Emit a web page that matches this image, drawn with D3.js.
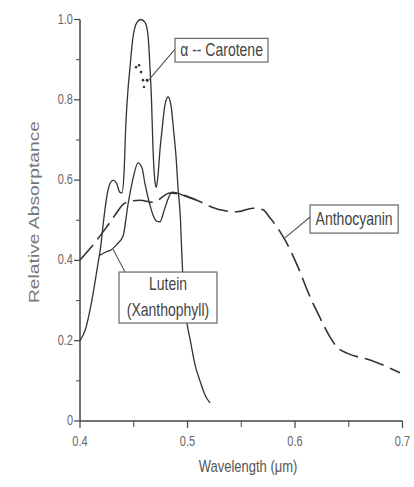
<!DOCTYPE html>
<html>
<head>
<meta charset="utf-8">
<script src="https://cdn.jsdelivr.net/npm/d3@7"></script>
<style>
  html, body { margin: 0; padding: 0; background: #fff; }
  svg { display: block; }
  text { font-family: "Liberation Sans", Arial, sans-serif; }
</style>
</head>
<body>
<svg id="chart" width="414" height="487"></svg>
<script>
// Pigment absorption spectra: wavelength (µm) vs relative absorptance
const xTicks = [0.4, 0.5, 0.6, 0.7];
const xMinorTicks = [0.45, 0.55, 0.65];
const yTicks = [0, 0.2, 0.4, 0.6, 0.8, 1.0];
const yMinorTicks = [0.1, 0.3, 0.5, 0.7, 0.9];

// α-Carotene
const caroteneWl  = [0.400, 0.405, 0.411, 0.416, 0.4195, 0.422, 0.425, 0.428, 0.431, 0.434, 0.437, 0.439, 0.441, 0.4425, 0.4445, 0.4465, 0.449, 0.453, 0.4567, 0.4605, 0.4633, 0.4651, 0.4665, 0.4679, 0.4698, 0.4710, 0.4725, 0.4744, 0.4763, 0.4790, 0.4819, 0.4847, 0.4872, 0.4893, 0.4912, 0.4935, 0.4945, 0.4955, 0.4975, 0.4995, 0.5023, 0.5070, 0.5116, 0.5163, 0.5209];
const caroteneAbs = [0.200, 0.228, 0.300, 0.380, 0.440, 0.500, 0.560, 0.592, 0.600, 0.592, 0.570, 0.568, 0.620, 0.730, 0.820, 0.880, 0.950, 0.993, 1.000, 0.993, 0.960, 0.880, 0.800, 0.680, 0.595, 0.582, 0.610, 0.675, 0.725, 0.787, 0.807, 0.785, 0.720, 0.660, 0.580, 0.500, 0.430, 0.370, 0.300, 0.245, 0.205, 0.140, 0.100, 0.065, 0.045];

// Lutein (xanthophyll)
const luteinWl  = [0.4186, 0.4242, 0.4288, 0.4353, 0.4400, 0.4447, 0.4490, 0.4540, 0.4577, 0.4605, 0.4651, 0.4679, 0.4716, 0.4744, 0.4780, 0.4819, 0.4856, 0.4902, 0.4977, 0.5080];
const luteinAbs = [0.413, 0.421, 0.426, 0.443, 0.460, 0.540, 0.600, 0.643, 0.630, 0.590, 0.538, 0.513, 0.497, 0.496, 0.522, 0.553, 0.570, 0.568, 0.560, 0.550];

// Anthocyanin
const anthoWl  = [0.400, 0.4158, 0.4242, 0.4326, 0.4419, 0.4558, 0.4679, 0.4837, 0.4930, 0.5088, 0.5181, 0.5302, 0.5460, 0.5609, 0.5702, 0.5767, 0.5833, 0.5907, 0.6019, 0.6140, 0.6233, 0.6326, 0.6391, 0.6484, 0.6698, 0.6977];
const anthoAbs = [0.401, 0.451, 0.481, 0.513, 0.543, 0.550, 0.545, 0.568, 0.565, 0.550, 0.538, 0.526, 0.521, 0.530, 0.526, 0.506, 0.483, 0.451, 0.389, 0.309, 0.257, 0.209, 0.184, 0.169, 0.152, 0.120];

// small star marks near the α-carotene peak
const markWl  = [0.4521, 0.4549, 0.4568, 0.4586, 0.4595, 0.4623];
const markAbs = [0.881, 0.886, 0.869, 0.849, 0.832, 0.849];

const svg = d3.select("#chart");
const x = d3.scaleLinear().domain([0.4, 0.7]).range([80, 402.5]);
const y = d3.scaleLinear().domain([0, 1]).range([421, 19.5]);

const STRETCH = 1.33;   // tall, narrow lettering
const ink = "#333";

function stretchedText(g, px, py, str, opts) {
  const t = g.append("text")
    .attr("transform", `translate(${px},${py}) scale(1,${STRETCH})`)
    .attr("text-anchor", opts.anchor || "middle")
    .attr("font-size", opts.size)
    .attr("fill", opts.fill || "#555")
    .text(str);
  return t;
}

// Axes
const axes = svg.append("g");
axes.append("line").attr("x1", x(0.4)).attr("x2", x(0.4)).attr("y1", y(1.0)).attr("y2", y(0))
  .attr("stroke", "#444").attr("stroke-width", 1.5);
axes.append("line").attr("x1", x(0.4)).attr("x2", x(0.7)).attr("y1", y(0)).attr("y2", y(0))
  .attr("stroke", "#444").attr("stroke-width", 1.5);

yTicks.forEach(v => {
  axes.append("line").attr("x1", x(0.4) - 6).attr("x2", x(0.4)).attr("y1", y(v)).attr("y2", y(v))
    .attr("stroke", "#444").attr("stroke-width", 1.2);
  stretchedText(axes, x(0.4) - 7, y(v) + 4, v === 0 ? "0" : v.toFixed(1), {anchor: "end", size: 11, fill: "#666"});
});
yMinorTicks.forEach(v => {
  axes.append("line").attr("x1", x(0.4) - 4).attr("x2", x(0.4)).attr("y1", y(v)).attr("y2", y(v))
    .attr("stroke", "#555").attr("stroke-width", 1.1);
});
xTicks.forEach(v => {
  axes.append("line").attr("x1", x(v)).attr("x2", x(v)).attr("y1", y(0)).attr("y2", y(0) + 7)
    .attr("stroke", "#444").attr("stroke-width", 1.2);
  stretchedText(axes, x(v), y(0) + 25, v.toFixed(1), {size: 11, fill: "#666"});
});
xMinorTicks.forEach(v => {
  axes.append("line").attr("x1", x(v)).attr("x2", x(v)).attr("y1", y(0)).attr("y2", y(0) + 6)
    .attr("stroke", "#555").attr("stroke-width", 1.1);
});

// Axis titles
stretchedText(svg, 248, 472, "Wavelength (μm)", {size: 13, fill: "#555"});
svg.append("text")
  .attr("transform", `translate(39,212) rotate(-90) scale(${STRETCH},1)`)
  .attr("text-anchor", "middle")
  .attr("font-size", 14.5)
  .attr("fill", "#777")
  .text("Relative Absorptance");

// Spectra
const line = d3.line().x(d => x(d[0])).y(d => y(d[1])).curve(d3.curveMonotoneX);
const zip = (a, b) => a.map((v, i) => [v, b[i]]);

const curves = svg.append("g").attr("fill", "none").attr("stroke", ink);
curves.append("path").datum(zip(anthoWl, anthoAbs)).attr("d", line)
  .attr("stroke-width", 1.6).attr("stroke-dasharray", "20,7");
curves.append("path").datum(zip(luteinWl, luteinAbs)).attr("d", line)
  .attr("stroke-width", 1.3);
curves.append("path").datum(zip(caroteneWl, caroteneAbs)).attr("d", line)
  .attr("stroke-width", 1.3);

svg.append("g").selectAll("circle").data(zip(markWl, markAbs)).join("circle")
  .attr("cx", d => x(d[0])).attr("cy", d => y(d[1])).attr("r", 1.3).attr("fill", "#333");

// Labels with leader lines (positions in data space)
const labels = [
  {lines: ["α -- Carotene"], box: [0.4884, 0.953, 0.5749, 0.894], from: [0.4884, 0.926], to: [0.4623, 0.844]},
  {lines: ["Anthocyanin"], box: [0.6140, 0.538, 0.6960, 0.468], from: [0.6140, 0.508], to: [0.5907, 0.456]},
  {lines: ["Lutein", "(Xanthophyll)"], box: [0.4363, 0.371, 0.5274, 0.244], from: [0.4419, 0.371], to: [0.4307, 0.428]}
];
const lab = svg.append("g");
labels.forEach(l => {
  lab.append("line")
    .attr("x1", x(l.from[0])).attr("y1", y(l.from[1]))
    .attr("x2", x(l.to[0])).attr("y2", y(l.to[1]))
    .attr("stroke", "#555").attr("stroke-width", 1.1);
  const x0 = x(l.box[0]), y0 = y(l.box[1]), x1 = x(l.box[2]), y1 = y(l.box[3]);
  lab.append("rect").attr("x", x0).attr("y", y0).attr("width", x1 - x0).attr("height", y1 - y0)
    .attr("fill", "#fff").attr("stroke", "#666").attr("stroke-width", 1.2);
  const cx = (x0 + x1) / 2;
  const h = y1 - y0;
  const n = l.lines.length;
  l.lines.forEach((s, i) => {
    const base = y0 + h * (i + 0.5) / n + 5.5;
    stretchedText(lab, cx, base, s, {size: 14, fill: "#444"});
  });
});
</script>
</body>
</html>
